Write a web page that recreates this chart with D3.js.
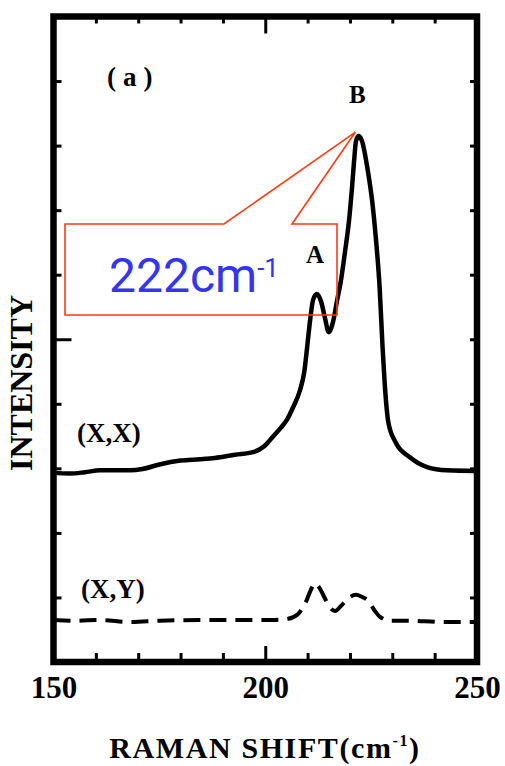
<!DOCTYPE html>
<html>
<head>
<meta charset="utf-8">
<script src="https://cdn.jsdelivr.net/npm/d3@7/dist/d3.min.js"></script>
<style>
  html, body { margin: 0; padding: 0; background: #fff; }
  svg { display: block; }
  .serif { font-family: "Liberation Serif", "DejaVu Serif", serif; font-weight: bold; }
</style>
</head>
<body>
<svg id="chart" width="505" height="766"></svg>
<script>
// Raman spectra, (X,X) and (X,Y) polarisations
const shiftXX = [150.0, 153.9, 157.4, 161.0, 168.1, 171.0, 175.0, 180.0, 184.6, 188.1,
  192.9, 197.1, 199.9, 201.8, 203.7, 205.1, 206.6, 208.2, 209.2, 209.9, 210.6, 211.3,
  212.2, 213.2, 214.1, 215.0, 216.0, 216.9, 217.9, 218.8, 219.8, 220.5, 221.0, 221.4,
  222.0, 222.8, 224.2, 225.3, 226.1, 227.0, 227.7, 228.2, 229.1, 230.9,
  234.0, 238.2, 242.9, 250.0];
const intensityXX = [2.93, 2.92, 2.94, 2.97, 2.97, 2.99, 3.06, 3.12, 3.14, 3.16,
  3.21, 3.25, 3.35, 3.49, 3.63, 3.75, 3.95, 4.21, 4.49, 4.88, 5.30, 5.61,
  5.70, 5.58, 5.33, 5.11, 5.27, 5.58, 5.92, 6.34, 6.85, 7.36, 7.78, 8.06,
  8.15, 8.08, 7.62, 7.11, 6.58, 5.81, 4.88, 4.32, 3.70, 3.39,
  3.18, 3.02, 2.97, 2.96];

const shiftXY = [150.0, 155.1, 161.0, 168.1, 175.1, 184.6, 194.0, 201.1, 205.4, 207.7,
  209.6, 211.0, 211.7, 212.7, 213.9, 215.3, 216.5, 217.9, 219.5, 221.4, 222.8, 224.3,
  225.7, 227.1, 229.5, 234.2, 241.3, 250.0];
const intensityXY = [0.65, 0.64, 0.65, 0.62, 0.64, 0.65, 0.65, 0.65, 0.67, 0.74,
  0.93, 1.15, 1.22, 1.16, 1.01, 0.84, 0.79, 0.87, 0.98, 1.04, 1.01, 0.95,
  0.81, 0.70, 0.64, 0.64, 0.62, 0.62];

const xTickValues = [150, 160, 170, 180, 190, 200, 210, 220, 230, 240, 250];
const xTickLabels = [150, 200, 250];
const yTickValues = [1, 2, 3, 4, 5, 6, 7, 8, 9];

const peakB = 222;   // labelled B band position, cm-1

const svg = d3.select("#chart");
const frame = { left: 53.5, right: 477, top: 16.5, bottom: 662 };

const x = d3.scaleLinear().domain([150, 250]).range([frame.left, frame.right]);
const y = d3.scaleLinear().domain([0, 10]).range([frame.bottom, frame.top]);

// tick marks pointing into the frame
function styleTicks(g) {
  g.select(".domain").remove();
  g.selectAll(".tick line").attr("stroke", "#000").attr("stroke-width", 3);
}

const gBottom = svg.append("g").attr("transform", `translate(0,${frame.bottom})`)
  .call(d3.axisBottom(x).tickValues(xTickValues).tickSize(-9).tickPadding(8)
    .tickFormat(d => xTickLabels.includes(d) ? d : ""));
styleTicks(gBottom);
gBottom.selectAll(".tick").filter(d => d === 200).select("line").attr("y2", -16);
gBottom.selectAll(".tick text")
  .attr("class", "serif").attr("fill", "#000")
  .style("font-size", "31px")
  .attr("dy", "0.9em");

const gTop = svg.append("g").attr("transform", `translate(0,${frame.top})`)
  .call(d3.axisTop(x).tickValues(xTickValues.slice(1, -1)).tickSize(-7).tickFormat(""));
styleTicks(gTop);
gTop.selectAll(".tick").filter(d => d === 200).select("line").attr("y2", 17);

const gLeft = svg.append("g").attr("transform", `translate(${frame.left},0)`)
  .call(d3.axisLeft(y).tickValues(yTickValues).tickSize(-8).tickFormat(""));
styleTicks(gLeft);
gLeft.selectAll(".tick").filter(d => d === 5).select("line").attr("x2", 18);

const gRight = svg.append("g").attr("transform", `translate(${frame.right},0)`)
  .call(d3.axisRight(y).tickValues(yTickValues).tickSize(-7).tickFormat(""));
styleTicks(gRight);

// frame
svg.append("rect")
  .attr("x", frame.left).attr("y", frame.top)
  .attr("width", frame.right - frame.left).attr("height", frame.bottom - frame.top)
  .attr("fill", "none").attr("stroke", "#000").attr("stroke-width", 6.5);

const line = d3.line().curve(d3.curveMonotoneX);

svg.append("path")
  .datum(shiftXX.map((s, i) => [x(s), y(intensityXX[i])]))
  .attr("d", line)
  .attr("fill", "none").attr("stroke", "#000").attr("stroke-width", 4.5)
  .attr("stroke-linejoin", "round");

svg.append("path")
  .datum(shiftXY.map((s, i) => [x(s), y(intensityXY[i])]))
  .attr("d", line)
  .attr("fill", "none").attr("stroke", "#000").attr("stroke-width", 4)
  .attr("stroke-dasharray", "17,9");

// labels inside the plot
function label(tx, ty, txt, size, ls) {
  return svg.append("text").attr("class", "serif")
    .attr("x", tx).attr("y", ty).attr("fill", "#000")
    .style("font-size", size + "px")
    .style("letter-spacing", (ls || 0) + "px")
    .text(txt);
}
label(107, 86, "(a)", 27, 7);
label(349, 103, "B", 25);
label(306, 263, "A", 25);
label(77, 442, "(X,X)", 27, 0);
label(81, 598, "(X,Y)", 27, 0);

// callout for band B
const tip = [x(peakB) - 3, y(8.21)];
const box = { x0: 65, x1: 337, y0: 224, y1: 315 };
const callout = d3.path();
callout.moveTo(box.x0, box.y0);
callout.lineTo(224, box.y0);
callout.lineTo(tip[0], tip[1]);
callout.lineTo(292, box.y0);
callout.lineTo(box.x1, box.y0);
callout.lineTo(box.x1, box.y1);
callout.lineTo(box.x0, box.y1);
callout.closePath();
svg.append("path").attr("d", callout.toString())
  .attr("fill", "none").attr("stroke", "#ff3a12").attr("stroke-width", 1.6);

const note = svg.append("text")
  .attr("x", 109).attr("y", 292)
  .attr("fill", "#3434f4")
  .style("font-family", "Roboto, 'Noto Sans', sans-serif")
  .style("font-size", "48px");
note.append("tspan").text(peakB + "cm");
note.append("tspan").attr("dy", -15).style("font-size", "26px").text("-1");

// axis titles
svg.append("text").attr("class", "serif")
  .attr("transform", "translate(32,383) rotate(-90)")
  .attr("text-anchor", "middle").attr("fill", "#000")
  .style("font-size", "31px")
  .attr("textLength", 176).attr("lengthAdjust", "spacingAndGlyphs")
  .text("INTENSITY");

const xt = svg.append("text").attr("class", "serif")
  .attr("x", 265).attr("y", 758)
  .attr("text-anchor", "middle").attr("fill", "#000")
  .style("font-size", "30px")
  .style("letter-spacing", "1.6px");
xt.append("tspan").text("RAMAN SHIFT(cm");
xt.append("tspan").attr("dy", -12).style("font-size", "16px").text("-1");
xt.append("tspan").attr("dy", 12).text(")");
</script>
</body>
</html>
